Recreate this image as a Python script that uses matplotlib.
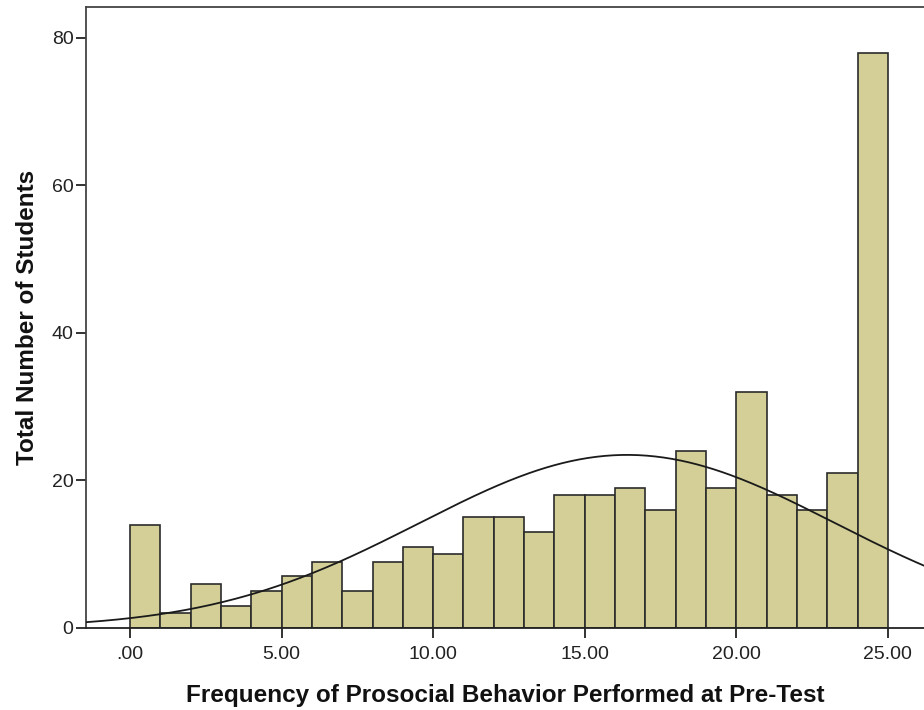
import numpy as np
import matplotlib
matplotlib.use("Agg")
from matplotlib import pyplot as plt

# histogram bins (width 1) and counts
bin_edges = list(range(0, 26))
counts = [14, 2, 6, 3, 5, 7, 9, 5, 9, 11, 10, 15, 15, 13, 18,
          18, 19, 16, 24, 19, 32, 18, 16, 21, 78]
# normal curve parameters
curve_mean = 16.4
curve_sd = 6.85

x_ticks = [0, 5, 10, 15, 20, 25]
x_tick_labels = [".00", "5.00", "10.00", "15.00", "20.00", "25.00"]
y_ticks = [0, 20, 40, 60, 80]

plt.rcParams["font.family"] = ["Liberation Sans", "DejaVu Sans"]

fig = plt.figure(figsize=(9.24, 7.10), dpi=100)
ax = fig.add_axes([86 / 924, 82 / 710, 838 / 924, 621 / 710])

lefts = np.array(bin_edges[:-1])
widths = np.diff(bin_edges)
ax.bar(lefts, counts, width=widths, align="edge", color="#d3cf97",
       edgecolor="#2b2b2b", linewidth=1.2, zorder=2)

xmin, xmax = -1.45, 26.19
xs = np.linspace(xmin, xmax, 400)
n_total = sum(counts)
ys = n_total * 1.0 / (curve_sd * np.sqrt(2 * np.pi)) * np.exp(-0.5 * ((xs - curve_mean) / curve_sd) ** 2)
ax.plot(xs, ys, color="#1a1a1a", linewidth=1.3, zorder=3)

ax.set_xlim(xmin, xmax)
ax.set_ylim(0, 84.2)
ax.set_xticks(x_ticks)
ax.set_xticklabels(x_tick_labels)
ax.set_yticks(y_ticks)

for side in ["left", "top"]:
    ax.spines[side].set_color("#444444")
    ax.spines[side].set_linewidth(1.3)
ax.spines["bottom"].set_color("#222222")
ax.spines["bottom"].set_linewidth(1.3)
ax.spines["right"].set_visible(False)

ax.tick_params(axis="both", direction="out", length=7, width=1.3,
               colors="#222222", labelsize=14, labelcolor="#222222")
ax.tick_params(axis="x", pad=6)
ax.tick_params(axis="y", pad=2)

ax.set_xlabel("Frequency of Prosocial Behavior Performed at Pre-Test",
              fontsize=17.5, fontweight="bold", labelpad=15, color="#111111")
ax.set_ylabel("Total Number of Students", fontsize=17.5, fontweight="bold",
              labelpad=9, color="#111111")

fig.savefig("out.png", dpi=100)
